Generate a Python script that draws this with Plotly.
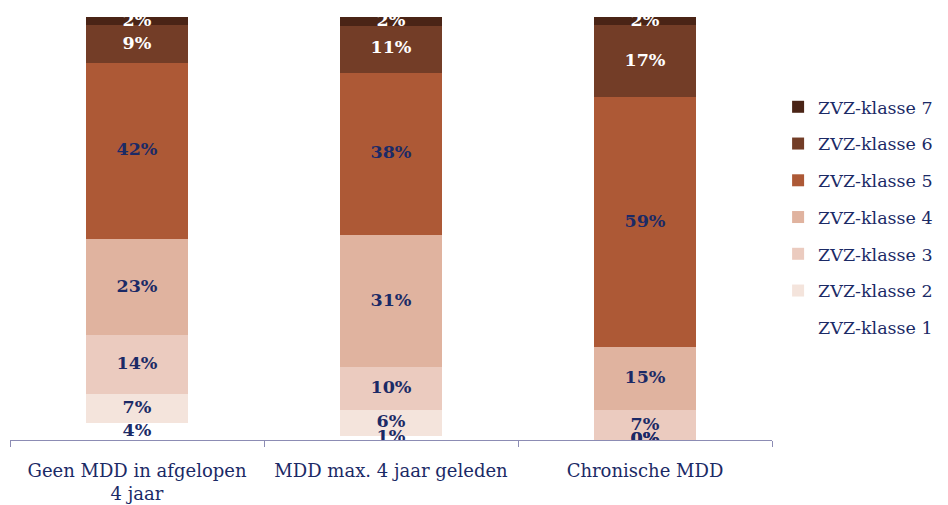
import numpy as np
import plotly.graph_objects as go

categories = ["Geen MDD in afgelopen<br>4 jaar", "MDD max. 4 jaar geleden", "Chronische MDD"]
classes = ["ZVZ-klasse 1", "ZVZ-klasse 2", "ZVZ-klasse 3", "ZVZ-klasse 4",
           "ZVZ-klasse 5", "ZVZ-klasse 6", "ZVZ-klasse 7"]

klasse_1 = [4, 1, 0]
klasse_2 = [7, 6, 0]
klasse_3 = [14, 10, 7]
klasse_4 = [23, 31, 15]
klasse_5 = [42, 38, 59]
klasse_6 = [9, 11, 17]
klasse_7 = [2, 2, 2]

values = [klasse_1, klasse_2, klasse_3, klasse_4, klasse_5, klasse_6, klasse_7]

COLORS = ["#FFFFFF", "#F4E4DC", "#EBCBBF", "#E0B39F", "#AD5936", "#733D27", "#4A2416"]
LABEL_COLORS = ["#1B2A66"] * 5 + ["#FFFFFF", "#FFFFFF"]
NAVY = "#1B2A66"
FONT = "DejaVu Serif"

fig = go.Figure()
for i, (name, vals) in enumerate(zip(classes, values)):
    fig.add_trace(go.Bar(
        x=categories, y=vals, name=name,
        marker=dict(color=COLORS[i], line=dict(width=0)),
        legendgroup=name,
        legendrank=len(classes) - i,
    ))

# data labels centred on each (normalised) segment
arr = np.array(values, dtype=float)
totals = arr.sum(axis=0)
pct = arr / totals * 100
tops = np.cumsum(pct, axis=0)
mids = tops - pct / 2
for i in range(len(classes)):
    fig.add_trace(go.Scatter(
        x=categories, y=mids[i],
        mode="text",
        text=[f"{v}%" for v in values[i]],
        textfont=dict(family=FONT, size=17.5, color=LABEL_COLORS[i], weight="bold"),
        showlegend=False, hoverinfo="skip",
    ))

fig.update_layout(
    barmode="stack",
    barnorm="percent",
    bargap=0.6,
    width=948, height=505,
    margin=dict(l=10, r=171, t=17, b=65),
    paper_bgcolor="white",
    plot_bgcolor="white",
    font=dict(family=FONT, size=18, color=NAVY),
    showlegend=True,
    legend=dict(
        x=1.008, xanchor="left", y=0.83, yanchor="top",
        traceorder="grouped",
        tracegroupgap=11,
        bgcolor="rgba(0,0,0,0)",
        font=dict(family=FONT, size=17.5, color=NAVY),
        itemwidth=30,
    ),
    xaxis=dict(
        showline=True, linecolor="#8C8CB4", linewidth=1,
        ticks="outside", ticklen=6, tickcolor="#8C8CB4",
        tickson="boundaries",
        tickangle=0,
        automargin=False,
        ticklabelstandoff=14,
        tickfont=dict(family=FONT, size=18, color=NAVY),
    ),
    yaxis=dict(range=[0, 100], visible=False),
)

fig.write_html("out.html", config={"displayModeBar": False},
               post_script="document.body.style.margin='0';")
